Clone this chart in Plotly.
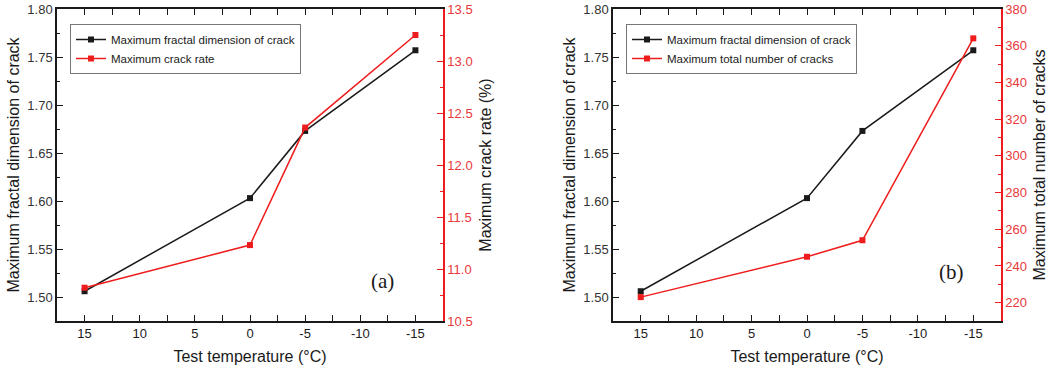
import plotly.graph_objects as go

temps = [15, 0, -5, -15]
fractal_dim = [1.506, 1.603, 1.673, 1.757]
crack_rate = [10.82, 11.23, 12.36, 13.25]
total_cracks = [223, 245, 254, 364]

BLACK = "#1a1a1a"
RED = "#ee1c1c"
RED_TXT = "#e8383a"
FONT = "Liberation Sans, Arial, sans-serif"

fig = go.Figure()

fig.add_trace(go.Scatter(x=temps, y=fractal_dim, mode="lines+markers", name="Maximum fractal dimension of crack",
                         line=dict(color=BLACK, width=1.5), marker=dict(symbol="square", size=6, color=BLACK),
                         xaxis="x", yaxis="y", legend="legend"))
fig.add_trace(go.Scatter(x=temps, y=crack_rate, mode="lines+markers", name="Maximum crack rate",
                         line=dict(color=RED, width=1.5), marker=dict(symbol="square", size=6, color=RED),
                         xaxis="x", yaxis="y2", legend="legend"))
fig.add_trace(go.Scatter(x=temps, y=fractal_dim, mode="lines+markers", name="Maximum fractal dimension of crack",
                         line=dict(color=BLACK, width=1.5), marker=dict(symbol="square", size=6, color=BLACK),
                         xaxis="x2", yaxis="y3", legend="legend2"))
fig.add_trace(go.Scatter(x=temps, y=total_cracks, mode="lines+markers", name="Maximum total number of cracks",
                         line=dict(color=RED, width=1.5), marker=dict(symbol="square", size=6, color=RED),
                         xaxis="x2", yaxis="y4", legend="legend2"))

W, H = 1052, 371
ydom = [1 - 321 / H, 1 - 9 / H]
xd1 = [57 / W, 443 / W]
xd2 = [613 / W, 1001 / W]

def xax(dom, anchor):
    return dict(domain=dom, anchor=anchor, range=[17.5, -17.5], tickmode="array", automargin=False,
                tickvals=[15, 10, 5, 0, -5, -10, -15], ticktext=["15", "10", "5", "0", "-5", "-10", "-15"],
                ticks="inside", ticklen=6, tickcolor=BLACK, showline=True, linecolor=BLACK, linewidth=1.5,
                mirror="allticks", showgrid=False, zeroline=False,
                minor=dict(ticks="inside", ticklen=3, tickvals=[12.5, 7.5, 2.5, -2.5, -7.5, -12.5], tickcolor=BLACK),
                tickfont=dict(family=FONT, size=13, color=BLACK),
                title=dict(text="Test temperature (°C)", font=dict(family=FONT, size=16, color=BLACK), standoff=10))

def yleft(anchor):
    return dict(domain=ydom, anchor=anchor, range=[1.475, 1.80], dtick=0.05, tick0=1.5, tickformat=".2f",
                automargin=False,
                ticks="inside", ticklen=6, tickcolor=BLACK, showline=True, linecolor=BLACK, linewidth=1.5,
                showgrid=False, zeroline=False,
                minor=dict(ticks="inside", ticklen=3, dtick=0.025, tick0=1.475, tickcolor=BLACK),
                tickfont=dict(family=FONT, size=13, color="#333"),
                title=dict(text="Maximum fractal dimension of crack", font=dict(family=FONT, size=16, color=BLACK), standoff=4))

def yright(anchor, overlay, rng, dtick, mdtick, fmt, title):
    return dict(anchor=anchor, overlaying=overlay, side="right", range=rng, dtick=dtick, tick0=rng[0] if fmt == ".1f" else 0,
                automargin=False,
                tickformat=fmt, ticks="inside", ticklen=6, tickcolor=RED, showline=True, linecolor=RED, linewidth=1.5,
                showgrid=False, zeroline=False,
                minor=dict(ticks="inside", ticklen=3, dtick=mdtick, tickcolor=RED),
                tickfont=dict(family=FONT, size=13, color=RED_TXT),
                title=dict(text=title, font=dict(family=FONT, size=16, color=BLACK), standoff=8))

legend_common = dict(bgcolor="white", bordercolor="#777", borderwidth=1,
                     font=dict(family=FONT, size=11.5, color=BLACK), tracegroupgap=0,
                     xanchor="left", yanchor="top", itemwidth=30)

fig.update_layout(
    width=W, height=H, margin=dict(l=0, r=0, t=0, b=0),
    paper_bgcolor="white", plot_bgcolor="white",
    xaxis=xax(xd1, "y"),
    yaxis=yleft("x"),
    yaxis2=yright("x", "y", [10.5, 13.5], 0.5, 0.25, ".1f", "Maximum crack rate (%)"),
    xaxis2=xax(xd2, "y3"),
    yaxis3=yleft("x2"),
    yaxis4=yright("x2", "y3", [210, 380], 20, 10, "d", "Maximum total number of cracks"),
    legend=dict(x=70 / W, y=1 - 24 / H, **legend_common),
    legend2=dict(x=626 / W, y=1 - 24 / H, **legend_common),
    annotations=[
        dict(text="(a)", x=382 / W, y=1 - 281 / H, xref="paper", yref="paper", showarrow=False,
             xanchor="center", yanchor="middle",
             font=dict(family="Liberation Serif, Times New Roman, serif", size=21, color=BLACK)),
        dict(text="(b)", x=951 / W, y=1 - 272 / H, xref="paper", yref="paper", showarrow=False,
             xanchor="center", yanchor="middle",
             font=dict(family="Liberation Serif, Times New Roman, serif", size=21, color=BLACK)),
    ],
)

fig.write_html("out.html", config={"displayModeBar": False},
               post_script="document.body.style.margin='0';document.body.style.overflow='hidden';")
